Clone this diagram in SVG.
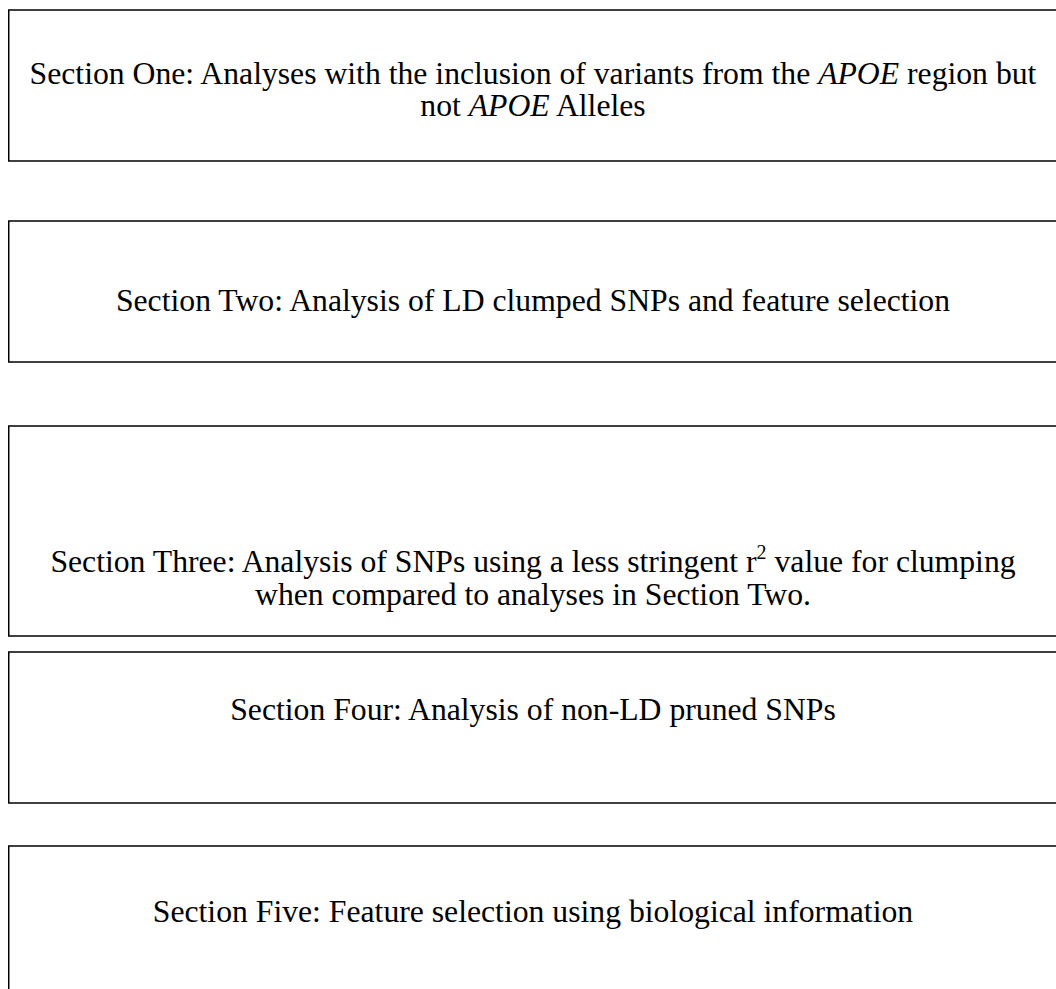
<svg xmlns="http://www.w3.org/2000/svg" width="1056" height="989" viewBox="0 0 1056 989">
<style>
.box{fill:#fff;stroke:#000;stroke-width:1.5}
.t{font-family:"Liberation Serif","Times New Roman",serif;font-size:31.7px;fill:#000;text-anchor:middle}
.i{font-style:italic}
</style>
<rect width="1056" height="989" fill="#fff"/>
<g id="section-one">
<rect class="box" x="8.75" y="10" width="1060" height="151"/>
<text class="t" x="533" y="84">Section One: Analyses with the inclusion of variants from the <tspan class="i">APOE</tspan> region but</text>
<text class="t" x="533" y="116">not <tspan class="i">APOE</tspan> Alleles</text>
</g>
<g id="section-two">
<rect class="box" x="8.75" y="221" width="1060" height="141"/>
<text class="t" x="533" y="311">Section Two: Analysis of LD clumped SNPs and feature selection</text>
</g>
<g id="section-three">
<rect class="box" x="8.75" y="426" width="1060" height="210"/>
<text class="t" x="533" y="572">Section Three: Analysis of SNPs using a less stringent r<tspan font-size="20" dy="-13">2</tspan><tspan dy="13"> value for clumping</tspan></text>
<text class="t" x="533" y="605">when compared to analyses in Section Two.</text>
</g>
<g id="section-four">
<rect class="box" x="8.75" y="652" width="1060" height="151"/>
<text class="t" x="533" y="720">Section Four: Analysis of non-LD pruned SNPs</text>
</g>
<g id="section-five">
<rect class="box" x="8.75" y="846" width="1060" height="160"/>
<text class="t" x="533" y="922">Section Five: Feature selection using biological information</text>
</g>
<g id="connectors"></g>
</svg>
